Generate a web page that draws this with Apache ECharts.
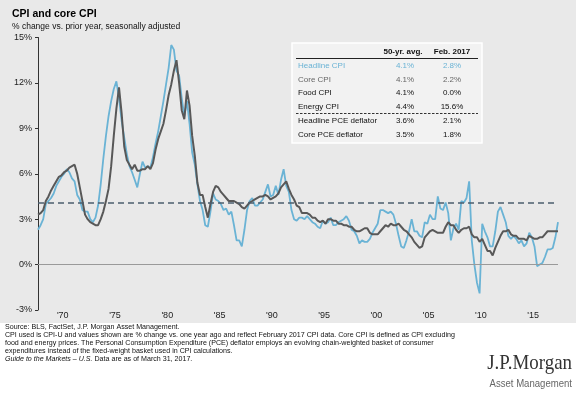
<!DOCTYPE html>
<html>
<head>
<meta charset="utf-8">
<script src="https://cdn.jsdelivr.net/npm/echarts/dist/echarts.min.js"></script>
<style>
body { margin: 0; background: #fff; }
#cpi-chart { width: 579px; height: 396px; }
</style>
</head>
<body>
<div id="cpi-chart"></div>
<script>
// quarterly y/y % change, 1967 Q2 .. 2017 Q1
const headlineCpi = [
    2.3, 2.6, 3.0,
    4.0, 4.2, 4.4, 4.7,   5.2, 5.5, 5.8, 6.0,   6.3, 6.1, 5.7, 5.5,   4.6, 4.3, 3.6, 3.5,
    3.5, 3.0, 2.8, 3.1,   3.9, 5.3, 7.0, 8.5,   9.8, 10.8, 11.6, 12.1, 11.0, 9.5, 8.4, 7.3,
    6.5, 6.1, 5.6, 5.1,   6.0, 6.8, 6.4, 6.5,   6.4, 7.1, 8.0, 8.8,   9.8, 10.8, 11.9, 13.0,
    14.5, 14.2, 12.8, 12.5, 11.0, 9.8, 10.8, 9.3, 7.4, 6.6, 5.3, 4.2,  3.6, 2.6, 2.5, 3.5,
    4.7, 4.3, 4.2, 4.0,   3.6, 3.7, 3.3, 3.5,   2.6, 1.6, 1.6, 1.2,   2.3, 3.6, 4.2, 4.4,
    3.9, 3.9, 4.1, 4.3,   4.8, 5.3, 4.5, 4.6,   5.2, 4.6, 5.6, 6.3,   5.2, 4.8, 3.6, 3.0,
    2.9, 3.1, 3.1, 3.0,   3.2, 3.0, 2.8, 2.7,   2.5, 2.4, 2.9, 2.7,   2.8, 3.1, 2.6, 2.6,
    2.8, 2.9, 3.0, 3.2,   2.9, 2.3, 2.2, 1.9,   1.4, 1.6, 1.5, 1.5,   1.7, 2.1, 2.4, 2.7,
    3.6, 3.6, 3.5, 3.4,   3.5, 3.3, 2.7, 1.9,   1.2, 1.1, 1.6, 2.2,   3.0, 2.2, 2.2, 1.9,
    1.8, 2.8, 2.7, 3.3,   3.0, 3.0, 4.5, 3.7,   3.6, 4.1, 3.4, 1.6,   2.4, 2.7, 2.3, 4.2,
    4.1, 4.4, 5.5, 1.6,   0.0, -1.2, -1.9, 2.7, 2.2, 1.8, 1.2, 1.2,   2.2, 3.5, 3.8, 3.3,
    2.8, 1.9, 1.7, 1.9,   1.7, 1.4, 1.6, 1.2,   1.4, 2.1, 1.8, 1.2,   -0.1, 0.0, 0.1, 0.5,
    1.0, 1.0, 1.1, 1.8,
    2.8
];
const coreCpi = [
    3.3, 3.4, 3.6,
    4.2, 4.5, 4.9, 5.2,   5.5, 5.8, 5.9, 6.1,   6.2, 6.4, 6.5, 6.6,   6.0, 5.1, 4.2, 3.3,
    3.0, 2.8, 2.7, 2.6,   2.6, 3.0, 3.5, 4.2,   5.0, 6.5, 8.5, 10.3,  11.7, 10.0, 7.8, 6.9,
    6.6, 6.3, 6.6, 6.2,   6.2, 6.3, 6.3, 6.5,   6.3, 6.7, 7.6, 8.3,   8.8, 9.3, 10.2, 11.2,
    11.9, 12.8, 13.5, 12.0, 10.2, 9.6, 11.5, 10.5, 8.5, 7.2, 5.4, 4.6, 4.6, 3.8, 3.1, 4.0,
    4.8, 5.2, 5.1, 4.8,   4.6, 4.4, 4.2, 4.2,   4.2, 4.1, 4.0, 3.8,   3.7, 3.9, 4.1, 4.2,
    4.3, 4.4, 4.5, 4.5,   4.6, 4.5, 4.3, 4.4,   4.5, 4.7, 5.1, 5.3,   5.5, 5.0, 4.6, 4.3,
    3.9, 3.8, 3.4, 3.4,   3.4, 3.3, 3.1, 3.1,   2.9, 2.8, 2.9, 2.7,   3.0, 3.0, 2.9, 2.9,
    2.7, 2.7, 2.6, 2.6,   2.5, 2.5, 2.3, 2.2,   2.2, 2.3, 2.4, 2.4,   2.1, 2.0, 2.0, 2.0,
    2.2, 2.4, 2.6, 2.5,   2.7, 2.6, 2.6, 2.7,   2.5, 2.3, 2.2, 2.0,   1.8, 1.5, 1.3, 1.1,
    1.2, 1.8, 2.0, 2.2,   2.3, 2.2, 2.1, 2.1,   2.1, 2.5, 2.8, 2.6,   2.6, 2.3, 2.1, 2.3,
    2.4, 2.4, 2.5, 2.0,   1.8, 1.8, 1.5, 1.7,   1.3, 0.9, 0.9, 0.6,   1.1, 1.5, 1.9, 2.2,
    2.2, 2.3, 2.0, 1.9,   1.9, 1.7, 1.7, 1.7,   1.6, 1.9, 1.8, 1.7,   1.7, 1.8, 1.8, 2.0,
    2.2, 2.2, 2.2, 2.2,
    2.2
];
const avgHeadline50yr = 4.1;

// x categories: one per quarter
const quarters = [];
for (let y = 1967; y <= 2017; y++) {
    for (let q = 1; q <= 4; q++) {
        if ((y === 1967 && q === 1) || (y === 2017 && q > 1)) continue;
        quarters.push(y + 'Q' + q);
    }
}
const tickYears = [1970, 1975, 1980, 1985, 1990, 1995, 2000, 2005, 2010, 2015];

// table in the upper right
const tableRows = ['Headline CPI', 'Core CPI', 'Food CPI', 'Energy CPI', 'Headline PCE deflator', 'Core PCE deflator'];
const tableAvg = ['4.1%', '4.1%', '4.1%', '4.4%', '3.6%', '3.5%'];
const tableFeb = ['2.8%', '2.2%', '0.0%', '15.6%', '2.1%', '1.8%'];

const footnotes = [
    'Source: BLS, FactSet, J.P. Morgan Asset Management.',
    'CPI used is CPI-U and values shown are % change vs. one year ago and reflect February 2017 CPI data. Core CPI is defined as CPI excluding',
    'food and energy prices. The Personal Consumption Expenditure (PCE) deflator employs an evolving chain-weighted basket of consumer',
    'expenditures instead of the fixed-weight basket used in CPI calculations.'
];

const FONT = 'Liberation Sans, Arial, sans-serif';
const BLUE = '#6ab3d5';
const GREY = '#585858';

function buildGraphic() {
    const els = [];
    // grey panel behind chart
    els.push({ type: 'rect', z: -10, shape: { x: 0, y: 0, width: 576, height: 323 }, style: { fill: '#e9e9e9' } });
    els.push({ type: 'text', left: 12, top: 9, z: 50,
        style: { text: 'CPI and core CPI', font: 'bold 10.5px ' + FONT, fill: '#000' } });
    els.push({ type: 'text', left: 12, top: 22, z: 50,
        style: { text: '% change vs. prior year, seasonally adjusted', font: '8.5px ' + FONT, fill: '#111' } });

    // table box
    els.push({ type: 'rect', z: 20, shape: { x: 292, y: 43, width: 190, height: 100 },
        style: { fill: '#f2f2f2', stroke: '#ffffff', lineWidth: 1.5 } });
    els.push({ type: 'text', z: 21, x: 403, y: 52,
        style: { text: '50-yr. avg.', font: 'bold 8px ' + FONT, fill: '#111', align: 'center', verticalAlign: 'middle' } });
    els.push({ type: 'text', z: 21, x: 452, y: 52,
        style: { text: 'Feb. 2017', font: 'bold 8px ' + FONT, fill: '#111', align: 'center', verticalAlign: 'middle' } });
    els.push({ type: 'line', z: 21, shape: { x1: 296, y1: 58.5, x2: 478, y2: 58.5 },
        style: { stroke: '#222', lineWidth: 1.2 } });
    els.push({ type: 'line', z: 21, shape: { x1: 296, y1: 113.5, x2: 478, y2: 113.5 },
        style: { stroke: '#333', lineWidth: 1.2, lineDash: [2.5, 1.5] } });

    const rowY = [66, 79.5, 93, 107, 121, 135];
    const rowColor = [BLUE, '#666666', '#111', '#111', '#111', '#111'];
    tableRows.forEach((name, i) => {
        const base = { font: '8px ' + FONT, fill: rowColor[i], verticalAlign: 'middle' };
        els.push({ type: 'text', z: 21, x: 298, y: rowY[i], style: Object.assign({ text: name, align: 'left' }, base) });
        els.push({ type: 'text', z: 21, x: 405, y: rowY[i], style: Object.assign({ text: tableAvg[i], align: 'center' }, base) });
        els.push({ type: 'text', z: 21, x: 452, y: rowY[i], style: Object.assign({ text: tableFeb[i], align: 'center' }, base) });
    });

    // footnotes
    footnotes.forEach((t, i) => {
        els.push({ type: 'text', z: 21, x: 5, y: 327.5 + i * 8,
            style: { text: t, font: '7.1px ' + FONT, fill: '#111', verticalAlign: 'middle' } });
    });
    els.push({ type: 'text', z: 21, x: 5, y: 327.5 + 4 * 8,
        style: {
            text: '{i|Guide to the Markets – U.S.} Data are as of March 31, 2017.',
            font: '7.1px ' + FONT, fill: '#111', verticalAlign: 'middle',
            rich: { i: { fontStyle: 'italic', fontSize: 7.1, fontFamily: FONT, fill: '#111' } }
        } });

    // logo
    els.push({ type: 'text', z: 21, x: 572, y: 363, scaleX: 0.86,
        style: { text: 'J.P.Morgan', font: '22px Liberation Serif, Times New Roman, serif', fill: '#333', align: 'right', verticalAlign: 'middle' } });
    els.push({ type: 'text', z: 21, x: 572, y: 384, scaleX: 0.87,
        style: { text: 'Asset Management', font: '11px ' + FONT, fill: '#666', align: 'right', verticalAlign: 'middle' } });
    return els;
}

function initOption() {
    return {
        animation: false,
        grid: { left: 38, right: 21, top: 37.5, bottom: 86 },
        xAxis: {
            type: 'category',
            data: quarters,
            boundaryGap: false,
            axisLine: { show: false },
            axisTick: { show: false },
            axisLabel: {
                interval: (idx, val) => val.endsWith('Q1') && tickYears.indexOf(+val.slice(0, 4)) >= 0,
                formatter: (val) => '{t|\'' + val.slice(2, 4) + '}',
                margin: 1,
                rich: { t: { fontSize: 9, fontFamily: FONT, color: '#222', padding: [0, 8, 0, 0] } }
            }
        },
        yAxis: {
            type: 'value',
            min: -3,
            max: 15,
            interval: 3,
            axisLine: { show: true, lineStyle: { color: '#333', width: 1 } },
            axisTick: { show: true, length: 3, lineStyle: { color: '#333' } },
            axisLabel: { formatter: '{value}%', fontSize: 9, fontFamily: FONT, color: '#222', margin: 6 },
            splitLine: { show: false }
        },
        series: [
            {
                name: 'Headline CPI',
                type: 'line',
                data: headlineCpi,
                symbol: 'none',
                lineStyle: { color: BLUE, width: 1.8 },
                z: 3
            },
            {
                name: 'Core CPI',
                type: 'line',
                data: coreCpi,
                symbol: 'none',
                lineStyle: { color: GREY, width: 2 },
                z: 4,
                markLine: {
                    silent: true,
                    symbol: 'none',
                    label: { show: false },
                    data: [
                        { yAxis: 0, lineStyle: { color: '#9a9a9a', width: 1, type: 'solid' } },
                        { yAxis: avgHeadline50yr, lineStyle: { color: '#4b5e6e', width: 1.5, type: [6, 4] } }
                    ]
                }
            }
        ],
        graphic: { elements: buildGraphic() }
    };
}

const myChart = echarts.init(document.getElementById('cpi-chart'));
myChart.setOption(initOption());
</script>
</body>
</html>
